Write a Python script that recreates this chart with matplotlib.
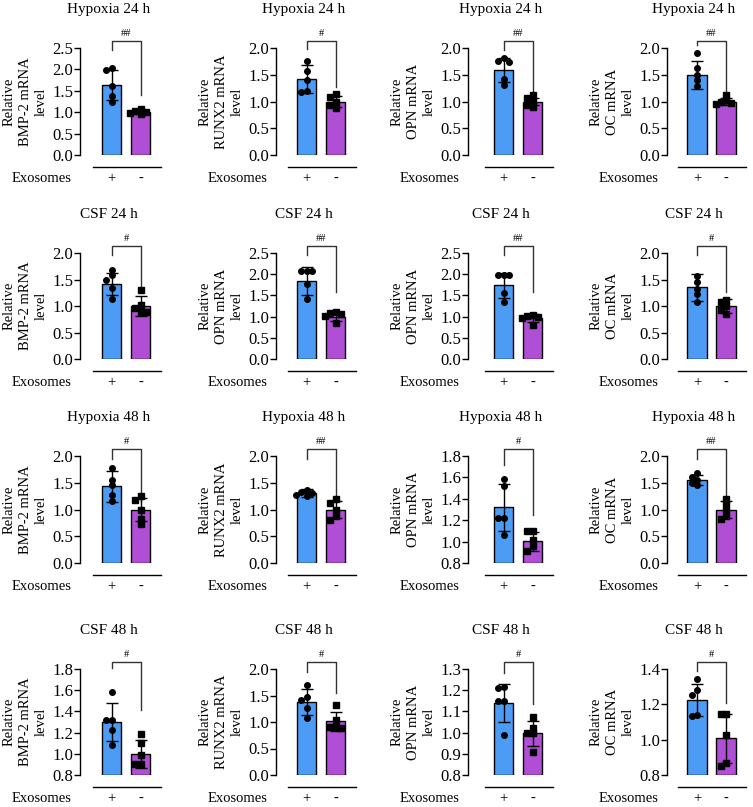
import matplotlib
matplotlib.use('Agg')
import matplotlib.pyplot as plt
import matplotlib.transforms as mtransforms
import numpy as np

plt.rcParams['font.family'] = ['Liberation Serif', 'DejaVu Serif']

# ---------------- data ----------------
titles = ["Hypoxia 24 h", "CSF 24 h", "Hypoxia 48 h", "CSF 48 h"]
genes = [["BMP-2", "RUNX2", "OPN", "OC"],
         ["BMP-2", "OPN", "OPN", "OC"],
         ["BMP-2", "RUNX2", "OPN", "OC"],
         ["BMP-2", "RUNX2", "OPN", "OC"]]
signif = [["##", "#", "##", "##"],
          ["#", "##", "##", "#"],
          ["#", "##", "#", "##"],
          ["#", "#", "#", "#"]]
y_ranges = [[(0, 2.5, 0.5), (0, 2.0, 0.5), (0, 2.0, 0.5), (0, 2.0, 0.5)],
            [(0, 2.0, 0.5), (0, 2.5, 0.5), (0, 2.5, 0.5), (0, 2.0, 0.5)],
            [(0, 2.0, 0.5), (0, 2.0, 0.5), (0.8, 1.8, 0.2), (0, 2.0, 0.5)],
            [(0.8, 1.8, 0.2), (0, 2.0, 0.5), (0.8, 1.3, 0.1), (0.8, 1.4, 0.2)]]
group_labels = ["+", "-"]

plus_mean = [[1.64, 1.42, 1.59, 1.50],
             [1.41, 1.84, 1.74, 1.35],
             [1.43, 1.31, 1.32, 1.55],
             [1.30, 1.375, 1.139, 1.226]]
plus_sd = [[0.35, 0.27, 0.23, 0.26],
           [0.21, 0.32, 0.30, 0.26],
           [0.29, 0.07, 0.22, 0.10],
           [0.18, 0.245, 0.091, 0.09]]
plus_pts = [[[2.03, 1.98, 1.62, 1.37, 1.23], [1.75, 1.575, 1.41, 1.19, 1.17],
             [1.81, 1.75, 1.74, 1.425, 1.31], [1.905, 1.62, 1.50, 1.40, 1.29]],
            [[1.675, 1.58, 1.49, 1.34, 1.125], [2.07, 2.07, 2.07, 1.78, 1.41],
             [1.98, 1.98, 1.98, 1.55, 1.34], [1.57, 1.45, 1.32, 1.22, 1.08]],
            [[1.78, 1.55, 1.45, 1.28, 1.15], [1.37, 1.33, 1.30, 1.28, 1.25],
             [1.586, 1.524, 1.219, 1.219, 1.064], [1.68, 1.60, 1.55, 1.50, 1.45]],
            [[1.579, 1.32, 1.32, 1.226, 1.084], [1.70, 1.48, 1.42, 1.26, 1.07],
             [1.215, 1.21, 1.147, 1.147, 0.989], [1.345, 1.283, 1.255, 1.141, 1.135]]]

minus_mean = [[1.0, 1.0, 1.0, 1.0],
              [1.0, 1.0, 0.96, 1.0],
              [1.0, 1.0, 1.002, 1.0],
              [1.0, 1.01, 0.997, 1.008]]
minus_sd = [[0.05, 0.11, 0.07, 0.07],
            [0.18, 0.10, 0.09, 0.14],
            [0.22, 0.16, 0.088, 0.15],
            [0.13, 0.18, 0.06, 0.14]]
minus_pts = [[[1.07, 1.03, 1.0, 0.97, 0.95], [1.14, 1.09, 1.0, 0.94, 0.875],
              [1.125, 1.06, 1.01, 0.94, 0.90], [1.13, 1.02, 0.99, 0.97, 0.96]],
             [[1.30, 1.02, 0.96, 0.89, 0.88], [1.10, 1.08, 1.05, 1.02, 0.84],
              [1.04, 1.02, 1.0, 0.96, 0.80], [1.12, 1.08, 1.0, 0.92, 0.85]],
             [[1.25, 1.18, 1.0, 0.82, 0.72], [1.20, 1.12, 1.0, 0.87, 0.80],
              [1.095, 1.095, 1.017, 0.955, 0.915], [1.20, 1.10, 1.0, 0.87, 0.82]],
             [[1.188, 1.106, 0.99, 0.904, 0.904], [1.32, 1.04, 0.915, 0.915, 0.88],
              [1.073, 1.021, 0.997, 0.997, 0.91], [1.147, 1.145, 1.027, 0.866, 0.851]]]

# ---------------- layout (pixels) ----------------
W, H = 753, 807
fig = plt.figure(figsize=(W / 100, H / 100), dpi=100)

spine_x = [80, 276, 468, 667]
blue_off = [31.5, 30.7, 35.5, 30.0]
spacing = 29.0
ax_w = 92.0
row_top = [48, 253, 456, 669]
row_bot = [155, 359, 563, 775]

bracket_left = [[0.98, 0.99, 0.98, 1.03],
                [0.98, 0.98, 0.98, 0.98],
                [0.97, 0.97, 0.92, 0.97],
                [1.01, 0.97, 0.96, 0.98]]
bracket_right = [[0.56, 0.635, 0.545, 0.59],
                 [0.65, 0.634, 0.634, 0.63],
                 [0.58, 0.58, 0.45, 0.58],
                 [0.615, 0.77, 0.67, 0.68]]

blue = '#4C9CF5'
purple = '#B04ED6'
DOT = 5.5  # marker diameter in px


def swarm(vals, ymin, ymax, hpx):
    """Greedy beeswarm: returns x offsets in px so markers do not overlap."""
    ypx = (np.asarray(vals, float) - ymin) / (ymax - ymin) * hpx
    order = np.argsort(-ypx)
    placed = []
    offs = np.zeros(len(ypx))
    cands = [0, -1, 1, -2, 2, -3, 3]
    for i in order:
        for k in cands:
            x = k * DOT * 0.95
            ok = all((x - px) ** 2 + (ypx[i] - py) ** 2 >= (DOT * 0.9) ** 2
                     for px, py in placed)
            if ok:
                break
        offs[i] = x
        placed.append((x, ypx[i]))
    return offs


for r in range(4):
    for c in range(4):
        top, bot = row_top[r], row_bot[r]
        hpx = bot - top
        left = spine_x[c]
        ax = fig.add_axes([left / W, 1 - bot / H, ax_w / W, hpx / H])
        ymin, ymax, ystep = y_ranges[r][c]
        xlo = -blue_off[c] / spacing
        xhi = xlo + ax_w / spacing
        ax.set_xlim(xlo, xhi)
        ax.set_ylim(ymin, ymax)
        ax.set_yticks(np.arange(ymin, ymax + ystep / 2, ystep))
        ax.yaxis.set_major_formatter(matplotlib.ticker.FormatStrFormatter('%.1f'))
        ax.tick_params(axis='y', labelsize=12, length=4, width=1, pad=1)
        ax.set_xticks([])
        for s in ['top', 'right', 'bottom']:
            ax.spines[s].set_visible(False)
        ax.spines['left'].set_linewidth(1)

        means = [plus_mean[r][c], minus_mean[r][c]]
        sds = [plus_sd[r][c], minus_sd[r][c]]
        pts = [plus_pts[r][c], minus_pts[r][c]]
        colors = [blue, purple]
        markers = ['o', 's']
        for i in range(2):
            ax.bar(i, means[i] - ymin, bottom=ymin, width=0.66, color=colors[i],
                   edgecolor='black', linewidth=1, zorder=2)
            ax.errorbar(i, means[i], yerr=sds[i], fmt='none', ecolor='black',
                        elinewidth=1, capsize=4, capthick=1, zorder=3)
            offs = swarm(pts[i], ymin, ymax, hpx) / spacing
            ax.plot(i + offs, pts[i], linestyle='none', marker=markers[i],
                    color='black', markersize=4, zorder=4, clip_on=False)

        ax.set_ylabel("Relative\n" + genes[r][c] + " mRNA\nlevel", fontsize=10.5,
                      linespacing=1.3, labelpad=3)

        trans = mtransforms.blended_transform_factory(ax.transData, ax.transAxes)
        btop = 1.07
        ax.plot([0, 0, 1, 1], [bracket_left[r][c], btop, btop, bracket_right[r][c]],
                color='#333333', lw=1, transform=trans, clip_on=False)
        ax.text(0.5, btop + 0.02, signif[r][c], transform=trans, ha='center',
                va='bottom', fontsize=7.5)

        # title
        ax.text(-3 / spacing, 1 + 38 / hpx, titles[r], transform=trans,
                ha='center', va='center', fontsize=11)

        # exosomes row
        ly = -12 / hpx
        ax.plot([-19 / spacing, 1 + 20 / spacing], [ly, ly], color='black',
                lw=1, transform=trans, clip_on=False)
        ty = -23.5 / hpx
        for i in range(2):
            ax.text(i, ty, group_labels[i], transform=trans, ha='center',
                    va='center', fontsize=10.5)
        ax.text(xlo - 38 / spacing, ty, "Exosomes", transform=trans,
                ha='center', va='center', fontsize=10.5)

fig.savefig('out.png', dpi=100)
